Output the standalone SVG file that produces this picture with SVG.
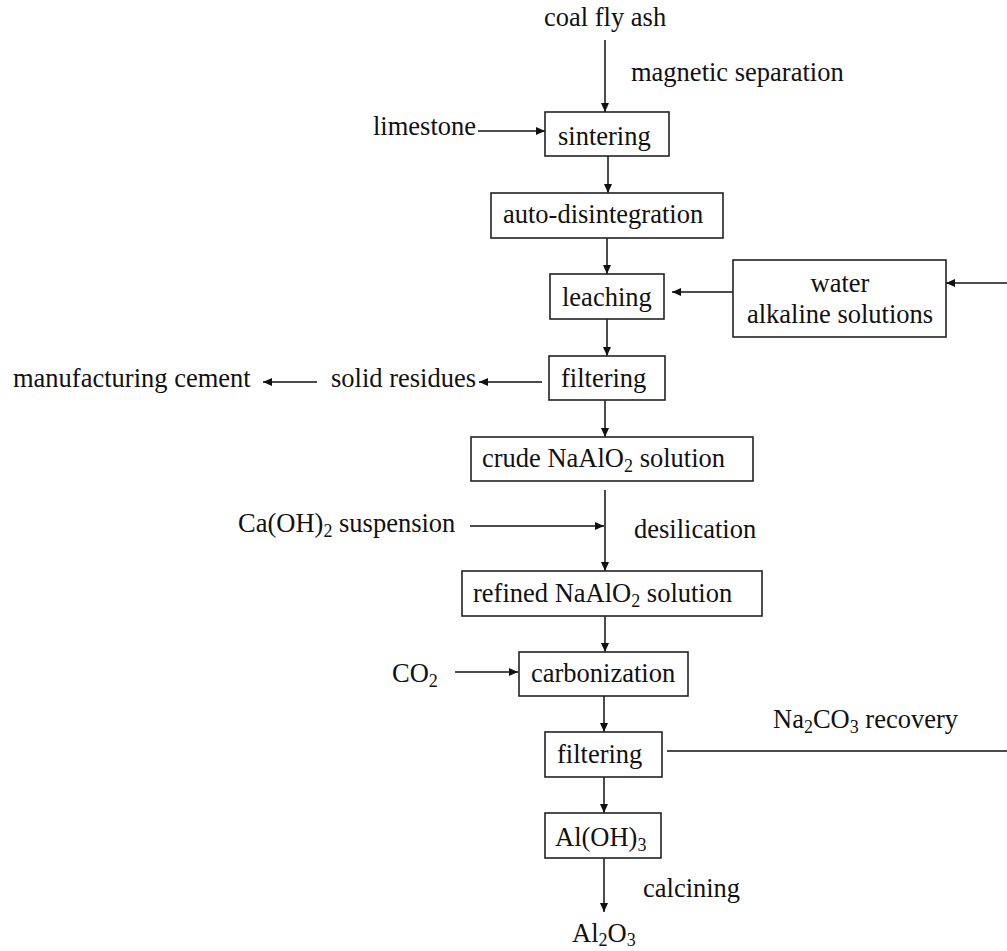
<svg xmlns="http://www.w3.org/2000/svg" width="1007" height="951" viewBox="0 0 1007 951">
<style>
text{font-family:"Liberation Serif","Times New Roman",Times,"DejaVu Serif",serif;font-size:26.5px;fill:#111}
.sub{font-size:18px}
.box{fill:#fff;stroke:#222;stroke-width:1.6}
.c{stroke:#111;stroke-width:1.5;fill:none}
.m{text-anchor:middle}
</style>
<defs>
<marker id="ah" markerUnits="userSpaceOnUse" markerWidth="10" markerHeight="10" refX="9" refY="4" orient="auto">
<path d="M0,0 L9,4 L0,8 Z" fill="#111"/>
</marker>
</defs>
<rect width="1007" height="951" fill="#fff"/>
<g id="connectors">
<line class="c" x1="605" y1="40" x2="605" y2="112" marker-end="url(#ah)"/>
<line class="c" x1="478" y1="131" x2="545" y2="131" marker-end="url(#ah)"/>
<line class="c" x1="608" y1="156" x2="608" y2="193" marker-end="url(#ah)"/>
<line class="c" x1="607" y1="238" x2="607" y2="274" marker-end="url(#ah)"/>
<line class="c" x1="733" y1="292" x2="672" y2="292" marker-end="url(#ah)"/>
<line class="c" x1="1007" y1="283" x2="946" y2="283" marker-end="url(#ah)"/>
<line class="c" x1="607" y1="319" x2="607" y2="356" marker-end="url(#ah)"/>
<line class="c" x1="542" y1="382" x2="479" y2="382" marker-end="url(#ah)"/>
<line class="c" x1="317" y1="382" x2="263" y2="382" marker-end="url(#ah)"/>
<line class="c" x1="605" y1="400" x2="605" y2="437" marker-end="url(#ah)"/>
<line class="c" x1="605" y1="490" x2="605" y2="571" marker-end="url(#ah)"/>
<line class="c" x1="470" y1="526" x2="604" y2="526" marker-end="url(#ah)"/>
<line class="c" x1="605" y1="616" x2="605" y2="652" marker-end="url(#ah)"/>
<line class="c" x1="455" y1="672" x2="518" y2="672" marker-end="url(#ah)"/>
<line class="c" x1="604" y1="696" x2="604" y2="732" marker-end="url(#ah)"/>
<line class="c" x1="667" y1="751" x2="1007" y2="751"/>
<line class="c" x1="604" y1="777" x2="604" y2="813" marker-end="url(#ah)"/>
<line class="c" x1="604" y1="858" x2="604" y2="912" marker-end="url(#ah)"/>
</g>
<g id="coal-fly-ash"><text x="544" y="26">coal fly ash</text></g>
<g id="label-magnetic"><text x="631" y="81">magnetic separation</text></g>
<g id="limestone"><text x="373" y="135">limestone</text></g>
<g id="sintering"><rect class="box" x="545" y="112" width="124" height="44"/><text x="558" y="145">sintering</text></g>
<g id="auto-disintegration"><rect class="box" x="491" y="193" width="232" height="45"/><text x="503" y="223">auto-disintegration</text></g>
<g id="leaching"><rect class="box" x="550" y="274" width="114" height="45"/><text x="562" y="306">leaching</text></g>
<g id="water-alkaline"><rect class="box" x="733" y="260" width="213" height="77"/><text class="m" x="840" y="292">water</text><text class="m" x="840" y="323">alkaline solutions</text></g>
<g id="filtering1"><rect class="box" x="549" y="356" width="116" height="44"/><text x="561" y="387">filtering</text></g>
<g id="solid-residues"><text x="331" y="387">solid residues</text></g>
<g id="manufacturing-cement"><text x="13" y="387">manufacturing cement</text></g>
<g id="crude"><rect class="box" x="471" y="437" width="282" height="44"/><text x="482" y="467">crude NaAlO<tspan class="sub" dy="5">2</tspan><tspan dy="-5"> solution</tspan></text></g>
<g id="caoh2"><text x="238" y="532">Ca(OH)<tspan class="sub" dy="5">2</tspan><tspan dy="-5"> suspension</tspan></text></g>
<g id="label-desilication"><text x="634" y="538">desilication</text></g>
<g id="refined"><rect class="box" x="462" y="571" width="300" height="45"/><text x="473" y="602">refined NaAlO<tspan class="sub" dy="5">2</tspan><tspan dy="-5"> solution</tspan></text></g>
<g id="co2"><text x="392" y="682">CO<tspan class="sub" dy="5">2</tspan></text></g>
<g id="carbonization"><rect class="box" x="519" y="652" width="169" height="44"/><text x="531" y="682">carbonization</text></g>
<g id="label-na2co3"><text x="773" y="728">Na<tspan class="sub" dy="5">2</tspan><tspan dy="-5">CO</tspan><tspan class="sub" dy="5">3</tspan><tspan dy="-5"> recovery</tspan></text></g>
<g id="filtering2"><rect class="box" x="545" y="732" width="117" height="45"/><text x="557" y="763">filtering</text></g>
<g id="aloh3"><rect class="box" x="545" y="813" width="116" height="45"/><text x="555" y="846">Al(OH)<tspan class="sub" dy="5">3</tspan></text></g>
<g id="label-calcining"><text x="643" y="897">calcining</text></g>
<g id="al2o3"><text x="572" y="942">Al<tspan class="sub" dy="4">2</tspan><tspan dy="-4">O</tspan><tspan class="sub" dy="4">3</tspan></text></g>
</svg>
